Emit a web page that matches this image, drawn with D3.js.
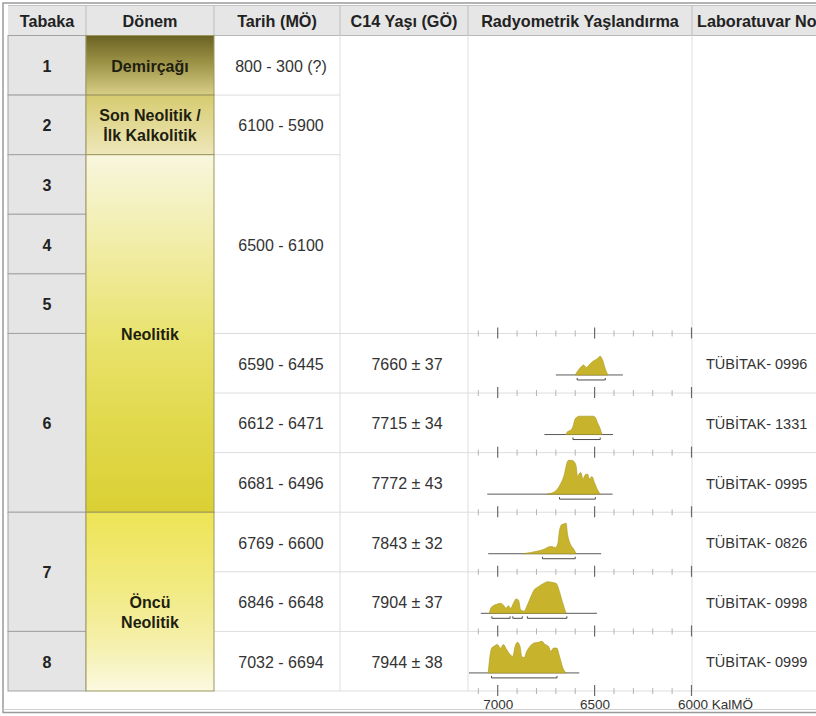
<!DOCTYPE html>
<html><head><meta charset="utf-8">
<script src="https://cdn.jsdelivr.net/npm/d3@7"></script>
<style>body{margin:0;background:#fff;overflow:hidden}text{font-family:"Liberation Sans",Arial,Helvetica,sans-serif}</style>
</head><body><svg id="c" width="816" height="716"></svg>
<script>
// ---------- data ----------
const headers = ["Tabaka","Dönem","Tarih (MÖ)","C14 Yaşı (GÖ)","Radyometrik Yaşlandırma","Laboratuvar No"];
const layerLabels = ["1","2","3","4","5","6","7","8"];
const layerSpans = [[0,0],[1,1],[2,2],[3,3],[4,4],[5,7],[8,9],[10,10]];
const periodLabels = [["Demirçağı"],["Son Neolitik /","İlk Kalkolitik"],["Neolitik"],["Öncü","Neolitik"]];
const periodSpans = [[0,0],[1,1],[2,7],[8,10]];
const dateLabels = ["800 - 300 (?)","6100 - 5900","6500 - 6100","6590 - 6445","6612 - 6471","6681 - 6496","6769 - 6600","6846 - 6648","7032 - 6694"];
const dateSpans = [[0,0],[1,1],[2,4],[5,5],[6,6],[7,7],[8,8],[9,9],[10,10]];
const c14Labels = ["7660 ± 37","7715 ± 34","7772 ± 43","7843 ± 32","7904 ± 37","7944 ± 38"];
const labLabels = ["TÜBİTAK- 0996","TÜBİTAK- 1331","TÜBİTAK- 0995","TÜBİTAK- 0826","TÜBİTAK- 0998","TÜBİTAK- 0999"];
const sampleRows = [5,6,7,8,9,10];
const calRanges = [
  [[6590,6445]],
  [[6612,6471]],
  [[6681,6496]],
  [[6769,6600]],
  [[7030,6936],[6922,6873],[6847,6643]],
  [[7032,6694]]
];
const curveSpans = [[6700,6354],[6759,6405],[7054,6407],[7049,6466],[7087,6488],[7148,6579]];
const densities = [
  [[6600,0],[6591,0.08],[6583,0.14],[6571,0.22],[6557,0.28],[6543,0.21],[6523,0.31],[6506,0.39],[6488,0.44],[6471,0.52],[6457,0.39],[6445,0.17],[6431,0]],
  [[6647,0],[6640,0.08],[6626,0.11],[6612,0.22],[6600,0.44],[6591,0.48],[6581,0.51],[6543,0.51],[6509,0.51],[6497,0.48],[6485,0.33],[6471,0.16],[6462,0]],
  [[6746,0],[6720,0.03],[6695,0.12],[6678,0.26],[6657,0.53],[6643,0.86],[6635,0.94],[6620,0.94],[6609,0.92],[6595,0.77],[6588,0.49],[6578,0.58],[6571,0.60],[6560,0.42],[6548,0.54],[6537,0.56],[6526,0.42],[6514,0.49],[6500,0.31],[6485,0.12],[6471,0]],
  [[6868,0],[6816,0.05],[6781,0.09],[6755,0.14],[6738,0.19],[6721,0.2],[6704,0.17],[6690,0.28],[6681,0.65],[6669,0.81],[6657,0.83],[6647,0.85],[6640,0.56],[6626,0.28],[6609,0.14],[6595,0]],
  [[7043,0],[7036,0.14],[7023,0.21],[7005,0.25],[6985,0.28],[6971,0.23],[6957,0.14],[6945,0.21],[6933,0.14],[6919,0.28],[6905,0.40],[6893,0.37],[6881,0.09],[6864,0.06],[6847,0.23],[6829,0.46],[6812,0.65],[6790,0.74],[6764,0.83],[6743,0.88],[6721,0.86],[6698,0.83],[6681,0.60],[6664,0.28],[6647,0]],
  [[7049,0],[7040,0.46],[7031,0.69],[7019,0.74],[7002,0.79],[6985,0.69],[6971,0.79],[6954,0.65],[6936,0.51],[6922,0.46],[6910,0.74],[6898,0.85],[6885,0.74],[6876,0.46],[6864,0.42],[6850,0.60],[6833,0.74],[6812,0.83],[6790,0.85],[6772,0.88],[6755,0.79],[6738,0.74],[6726,0.60],[6712,0.69],[6695,0.69],[6681,0.46],[6664,0.14],[6647,0]]
];
const majorTicks = [7000,6500,6000];
const minorTicks = [7100,6900,6800,6700,6600,6400,6300,6200,6100];
const axisLabels = ["7000","6500","6000 KalMÖ"];

// ---------- layout ----------
const svg = d3.select("#c");
const colX = [8, 86, 214, 340, 468, 692, 830];
const headTop = 5.5, headBot = 35.5, tableBot = 691;
const y = d3.scaleBand().domain(d3.range(11)).range([headBot, tableBot]);
const rh = y.bandwidth();
const rowTop = i => y(i), rowBot = i => y(i) + rh;
const spanMid = s => (rowTop(s[0]) + rowBot(s[1])) / 2;
const x = d3.scaleLinear().domain([7000, 6000]).range([497.7, 691.5]);

// frame
svg.append("rect").attr("x",3).attr("y",3).attr("width",840).attr("height",709.5)
  .attr("fill","#fff").attr("stroke","#9a9a9a").attr("stroke-width",1.5);
svg.append("line").attr("x1",3).attr("x2",816).attr("y1",709.5).attr("y2",709.5).attr("stroke","#d0d0d0");

// header
svg.append("rect").attr("x",colX[0]).attr("y",headTop).attr("width",816-colX[0]).attr("height",headBot-headTop).attr("fill","#e6e6e6");
svg.append("line").attr("x1",colX[0]).attr("x2",816).attr("y1",headTop).attr("y2",headTop).attr("stroke","#c4c4c4");
svg.append("line").attr("x1",colX[0]).attr("x2",816).attr("y1",headBot).attr("y2",headBot).attr("stroke","#b8b8b8");
colX.slice(1,6).forEach(cx => svg.append("line").attr("x1",cx).attr("x2",cx).attr("y1",headTop).attr("y2",headBot).attr("stroke","#bdbdbd"));
headers.forEach((h,i) => {
  const last = i === headers.length-1;
  svg.append("text").attr("x", last ? colX[i]+5 : (colX[i]+colX[i+1])/2)
    .attr("y", 21).attr("dy","0.35em").attr("text-anchor", last ? "start" : "middle")
    .attr("font-size",16.2).attr("font-weight","bold").attr("fill","#222").text(h);
});

// grid lines (white area)
const grid = svg.append("g").attr("stroke","#dddddd").attr("stroke-width",1);
[0,1,4].forEach(i => grid.append("line").attr("x1",colX[2]).attr("x2",colX[3]).attr("y1",rowBot(i)).attr("y2",rowBot(i)));
[4,5,6,7,8,9,10].forEach(i => grid.append("line").attr("x1",colX[2]).attr("x2",816).attr("y1",rowBot(i)).attr("y2",rowBot(i)));
[3,4,5].forEach(c => grid.append("line").attr("x1",colX[c]).attr("x2",colX[c]).attr("y1",headBot).attr("y2",tableBot));

// Tabaka column
layerSpans.forEach((s,i) => {
  svg.append("rect").attr("x",colX[0]).attr("y",rowTop(s[0])).attr("width",colX[1]-colX[0])
    .attr("height",rowBot(s[1])-rowTop(s[0])).attr("fill","#e5e5e5").attr("stroke","#a3a3a3").attr("stroke-width",1);
  svg.append("text").attr("x",(colX[0]+colX[1])/2).attr("y",spanMid(s)+1).attr("dy","0.35em")
    .attr("text-anchor","middle").attr("font-size",16).attr("font-weight","bold").attr("fill","#222").text(layerLabels[i]);
});

// Dönem column gradients
const defs = svg.append("defs");
const grads = [
  [["0%","#6a6224"],["45%","#9c9246"],["100%","#d8ce86"]],
  [["0%","#d6cb70"],["100%","#eee7ba"]],
  [["0%","#f8f6de"],["25%","#f1eda8"],["50%","#e9e370"],["75%","#e1d94c"],["100%","#dad034"]],
  [["0%","#eee456"],["40%","#f1ea7e"],["75%","#f5f0ae"],["100%","#fbf9e0"]]
];
grads.forEach((g,i) => {
  const lg = defs.append("linearGradient").attr("id","pg"+i).attr("x1",0).attr("x2",0).attr("y1",0).attr("y2",1);
  g.forEach(st => lg.append("stop").attr("offset",st[0]).attr("stop-color",st[1]));
});
const periodDy = [0,0,0,10];
periodSpans.forEach((s,i) => {
  svg.append("rect").attr("x",colX[1]).attr("y",rowTop(s[0])).attr("width",colX[2]-colX[1])
    .attr("height",rowBot(s[1])-rowTop(s[0])).attr("fill","url(#pg"+i+")").attr("stroke","#9c975c").attr("stroke-width",1);
  const lines = periodLabels[i];
  lines.forEach((t,j) => {
    svg.append("text").attr("x",(colX[1]+colX[2])/2)
      .attr("y", spanMid(s) + periodDy[i] + (j - (lines.length-1)/2)*20 + 1).attr("dy","0.35em")
      .attr("text-anchor","middle").attr("font-size",16).attr("font-weight","bold").attr("fill","#1e1e10").text(t);
  });
});

// Tarih column
dateSpans.forEach((s,i) => {
  svg.append("text").attr("x", 281).attr("y", spanMid(s)+1).attr("dy","0.35em")
    .attr("text-anchor","middle").attr("font-size",16).attr("fill","#333").text(dateLabels[i]);
});
// C14 and lab columns
sampleRows.forEach((r,i) => {
  const cy = rowTop(r) + rh/2 + 1;
  svg.append("text").attr("x",407).attr("y",cy).attr("dy","0.35em").attr("text-anchor","middle")
    .attr("font-size",16).attr("fill","#333").text(c14Labels[i]);
  svg.append("text").attr("x",706).attr("y",cy).attr("dy","0.35em").attr("text-anchor","start")
    .attr("font-size",14.5).attr("fill","#333").text(labLabels[i]);
});

// axis tick rows
const tickRows = [4,5,6,7,8,9,10].map(rowBot);
const tg = svg.append("g");
tickRows.forEach(ty => {
  minorTicks.forEach(t => tg.append("line").attr("x1",x(t)).attr("x2",x(t)).attr("y1",ty-3).attr("y2",ty+3).attr("stroke","#b3b3b3"));
  majorTicks.forEach(t => tg.append("line").attr("x1",x(t)).attr("x2",x(t)).attr("y1",ty-6).attr("y2",ty+5).attr("stroke","#6a6a6a").attr("stroke-width",1.2));
});

// calibration curves
const area = d3.area().x(d => x(d[0])).curve(d3.curveMonotoneX);
sampleRows.forEach((r,i) => {
  const base = rowTop(r) + 41.5;
  const yd = d3.scaleLinear().domain([0,1]).range([base, base-36]);
  const g = svg.append("g");
  g.append("line").attr("x1",x(curveSpans[i][0])).attr("x2",x(curveSpans[i][1]))
    .attr("y1",base).attr("y2",base).attr("stroke","#5a5a5a").attr("stroke-width",1);
  g.append("path").datum(densities[i])
    .attr("d", area.y0(base).y1(d => yd(d[1])))
    .attr("fill","#c8b42c").attr("stroke","#a8961c").attr("stroke-width",0.6);
  calRanges[i].forEach(cr => {
    const by = base + 5;
    g.append("path").attr("d",`M${x(cr[0])},${by-2}V${by}H${x(cr[1])}V${by-2}`)
      .attr("fill","none").attr("stroke","#4a4a4a").attr("stroke-width",1);
  });
});

// bottom axis labels
const ax = d3.axisBottom(x).tickValues(majorTicks).tickSize(0).tickFormat((d,i) => axisLabels[i]);
const axg = svg.append("g").attr("transform",`translate(0,${tableBot+5})`).call(ax);
axg.select(".domain").remove();
axg.selectAll("text").attr("font-size",13.5).attr("fill","#333").attr("font-family","Liberation Sans, Arial, sans-serif");
axg.selectAll(".tick").filter(d => d === 6000).select("text").attr("text-anchor","start").attr("x",-14);
</script></body></html>
